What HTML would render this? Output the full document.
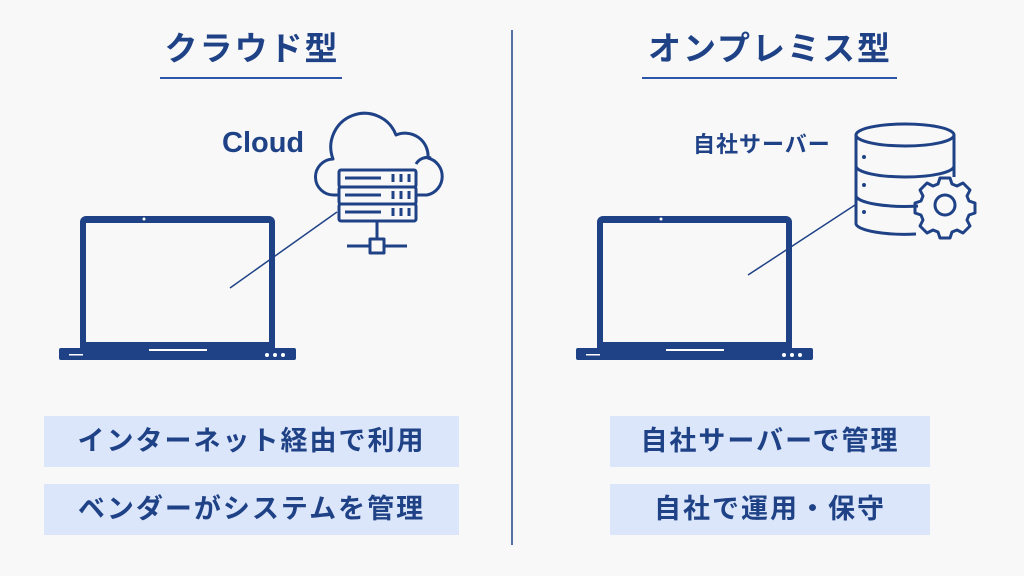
<!DOCTYPE html>
<html><head><meta charset="utf-8"><style>
html,body{margin:0;padding:0;background:#f8f8f8;}
#c{position:relative;width:1024px;height:576px;overflow:hidden;font-family:"Liberation Sans","Noto Sans CJK JP",sans-serif;color:#1f4287;font-weight:bold;}
.t{position:absolute;font-size:33px;letter-spacing:2px;line-height:40px;white-space:nowrap;text-align:center;}
.b{position:absolute;background:#dce6fb;font-size:27px;letter-spacing:2px;line-height:51px;height:51px;text-align:center;white-space:nowrap;}
</style></head><body><div id="c">
<svg width="1024" height="576" style="position:absolute;left:0;top:0">
<g stroke="#1f4287" fill="none">
<line x1="512" y1="30" x2="512" y2="545" stroke-width="1.5"/>
<line x1="160" y1="78" x2="342" y2="78" stroke="#2a55a8" stroke-width="2"/>
<line x1="642" y1="78" x2="897" y2="78" stroke="#2a55a8" stroke-width="2"/>
</g>
<g fill="#1f4287">
<path d="M86 216h183a6 6 0 0 1 6 6v126h-195v-126a6 6 0 0 1 6-6zM86 223v119h183v-119z" fill-rule="evenodd"/>
<rect x="59" y="348" width="237" height="12" rx="2"/>
<path d="M603 216h183a6 6 0 0 1 6 6v126h-195v-126a6 6 0 0 1 6-6zM603 223v119h183v-119z" fill-rule="evenodd"/>
<rect x="576" y="348" width="237" height="12" rx="2"/>
</g>
<g fill="#fff" stroke="none">
<circle cx="144" cy="219" r="1.5"/><circle cx="661" cy="219" r="1.5"/>
<rect x="149" y="349" width="58" height="2"/><rect x="666" y="349" width="58" height="2"/>
<rect x="69" y="354" width="14" height="1.5"/><rect x="586" y="354" width="14" height="1.5"/>
<circle cx="267" cy="355" r="2"/><circle cx="275" cy="355" r="2"/><circle cx="283" cy="355" r="2"/>
<circle cx="784" cy="355" r="2"/><circle cx="792" cy="355" r="2"/><circle cx="800" cy="355" r="2"/>
</g>
<g stroke="#1f4287" stroke-width="1.5">
<line x1="230" y1="288" x2="337" y2="212"/>
<line x1="748" y1="275" x2="855" y2="205"/>
</g>
<g stroke="#1f4287" stroke-width="3" fill="none" stroke-linejoin="round">
<path d="M338 195H334A18 18 0 0 1 333 159A32 32 0 0 1 396 135A23 23 0 0 1 428 158A19 19 0 0 1 427 195H416"/>
<path d="M416 164a13 13 0 0 1 15 -6"/>
<rect x="339" y="170" width="77" height="17" rx="2"/>
<rect x="339" y="187" width="77" height="17" rx="2"/>
<rect x="339" y="204" width="77" height="17" rx="2"/>
<line x1="345" y1="178" x2="381" y2="178"/><line x1="345" y1="195" x2="381" y2="195"/><line x1="345" y1="212" x2="381" y2="212"/>
<line x1="393" y1="174" x2="393" y2="182"/><line x1="401" y1="174" x2="401" y2="182"/><line x1="409" y1="174" x2="409" y2="182"/>
<line x1="393" y1="191" x2="393" y2="199"/><line x1="401" y1="191" x2="401" y2="199"/><line x1="409" y1="191" x2="409" y2="199"/>
<line x1="393" y1="208" x2="393" y2="216"/><line x1="401" y1="208" x2="401" y2="216"/><line x1="409" y1="208" x2="409" y2="216"/>
<line x1="377" y1="221" x2="377" y2="239"/>
<line x1="347" y1="246" x2="370" y2="246"/><line x1="384" y1="246" x2="407" y2="246"/>
<rect x="370" y="239" width="14" height="14"/>
</g>
<g stroke="#1f4287" stroke-width="3" fill="none">
<ellipse cx="905" cy="135" rx="49" ry="11"/>
<path d="M856 135v89a49 11 0 0 0 60 10"/>
<path d="M954 135v42"/>
<path d="M856 166a49 11 0 0 0 98 0"/>
<path d="M856 196a49 11 0 0 0 62 10"/>
<circle cx="945" cy="205" r="10"/>
<path d="M940 178h10l2 6 5 2 6-3 7 7-3 6 2 5 6 2v10l-6 2-2 5 3 6-7 7-6-3-5 2-2 6h-10l-2-6-5-2-6 3-7-7 3-6-2-5-6-2v-10l6-2 2-5-3-6 7-7 6 3 5-2z" stroke-linejoin="round"/>
</g>
<g fill="#1f4287"><circle cx="864" cy="157" r="2"/><circle cx="864" cy="185" r="2"/><circle cx="864" cy="212" r="2"/></g>
</svg>
<div class="t" style="left:140px;top:29px;width:224px;">クラウド型</div>
<div class="t" style="left:620px;top:29px;width:300px;">オンプレミス型</div>
<div style="position:absolute;left:222px;top:126px;font-size:29px;line-height:34px;">Cloud</div>
<div style="position:absolute;left:693px;top:130px;font-size:22px;line-height:30px;letter-spacing:1px;">自社サーバー</div>
<div class="b" style="left:44px;top:416px;width:415px;">インターネット経由で利用</div>
<div class="b" style="left:44px;top:484px;width:415px;">ベンダーがシステムを管理</div>
<div class="b" style="left:610px;top:416px;width:320px;">自社サーバーで管理</div>
<div class="b" style="left:610px;top:484px;width:320px;">自社で運用・保守</div>
</div></body></html>
